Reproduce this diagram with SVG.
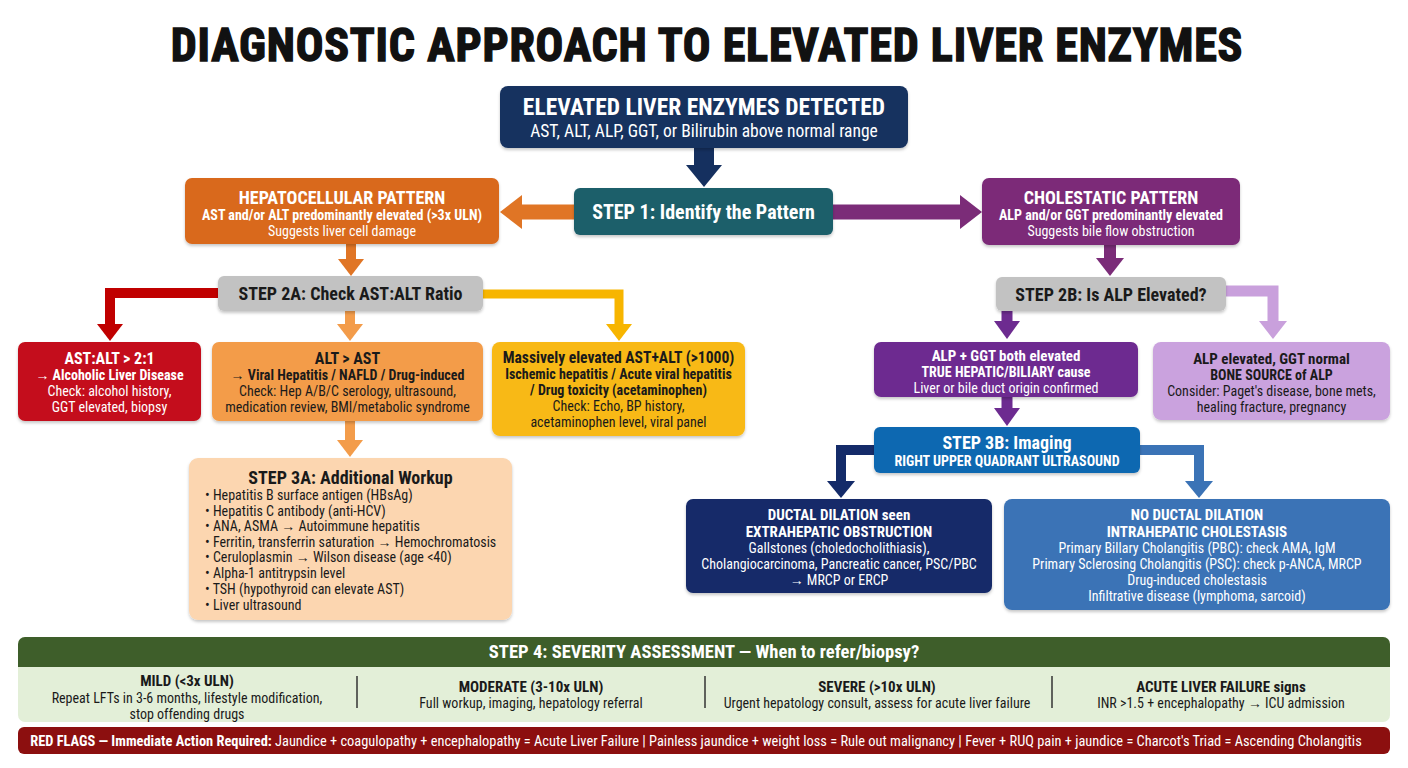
<svg xmlns="http://www.w3.org/2000/svg" width="1408" height="768" viewBox="0 0 1408 768">
<defs>
<style>
text{font-family:"Liberation Sans Narrow","Roboto Condensed","Arial Narrow","Liberation Sans",sans-serif;text-anchor:middle}
.b{font-weight:bold}
.w{fill:#fff}
.d{fill:#1a1a1a}
.box{filter:url(#sh)}
.f24{font-size:23.5px}.f20{font-size:20px}.f18{font-size:18px}.f17{font-size:17.5px}.f16{font-size:16px}.f15{font-size:15px}.f14{font-size:14px}
.lft{text-anchor:start}
.cn{fill:none}
</style>
<filter id="sh" x="-5%" y="-10%" width="110%" height="130%"><feDropShadow dx="0" dy="2" stdDeviation="1.5" flood-color="#000" flood-opacity="0.22"/></filter>
<marker id="hNavyB" markerUnits="userSpaceOnUse" viewBox="0 0 22 36" markerWidth="22" markerHeight="36" refX="0" refY="18" orient="auto"><path d="M0,0L22,18L0,36z" fill="#15305f"/></marker>
<marker id="hOrangeB" markerUnits="userSpaceOnUse" viewBox="0 0 22 34" markerWidth="22" markerHeight="34" refX="0" refY="17" orient="auto"><path d="M0,0L22,17L0,34z" fill="#e07525"/></marker>
<marker id="hPurpleB" markerUnits="userSpaceOnUse" viewBox="0 0 22 34" markerWidth="22" markerHeight="34" refX="0" refY="17" orient="auto"><path d="M0,0L22,17L0,34z" fill="#7b2c78"/></marker>
<marker id="hOrange" markerUnits="userSpaceOnUse" viewBox="0 0 17 26" markerWidth="17" markerHeight="26" refX="0" refY="13" orient="auto"><path d="M0,0L17,13L0,26z" fill="#e07525"/></marker>
<marker id="hLtOrange" markerUnits="userSpaceOnUse" viewBox="0 0 17 26" markerWidth="17" markerHeight="26" refX="0" refY="13" orient="auto"><path d="M0,0L17,13L0,26z" fill="#f39c4a"/></marker>
<marker id="hRed" markerUnits="userSpaceOnUse" viewBox="0 0 17 26" markerWidth="17" markerHeight="26" refX="0" refY="13" orient="auto"><path d="M0,0L17,13L0,26z" fill="#c00000"/></marker>
<marker id="hYellow" markerUnits="userSpaceOnUse" viewBox="0 0 17 26" markerWidth="17" markerHeight="26" refX="0" refY="13" orient="auto"><path d="M0,0L17,13L0,26z" fill="#f7b500"/></marker>
<marker id="hPurple" markerUnits="userSpaceOnUse" viewBox="0 0 18 28" markerWidth="18" markerHeight="28" refX="0" refY="14" orient="auto"><path d="M0,0L18,14L0,28z" fill="#7b2c78"/></marker>
<marker id="hViolet" markerUnits="userSpaceOnUse" viewBox="0 0 18 26" markerWidth="18" markerHeight="26" refX="0" refY="13" orient="auto"><path d="M0,0L18,13L0,26z" fill="#6d2b90"/></marker>
<marker id="hLilac" markerUnits="userSpaceOnUse" viewBox="0 0 18 28" markerWidth="18" markerHeight="28" refX="0" refY="14" orient="auto"><path d="M0,0L18,14L0,28z" fill="#c9a0dc"/></marker>
<marker id="hNavy" markerUnits="userSpaceOnUse" viewBox="0 0 17 28" markerWidth="17" markerHeight="28" refX="0" refY="14" orient="auto"><path d="M0,0L17,14L0,28z" fill="#142b69"/></marker>
<marker id="hBlue" markerUnits="userSpaceOnUse" viewBox="0 0 17 28" markerWidth="17" markerHeight="28" refX="0" refY="14" orient="auto"><path d="M0,0L17,14L0,28z" fill="#3b73b6"/></marker>
</defs>
<rect width="1408" height="768" fill="#ffffff"/>

<text id="title" x="707" y="61" style="font-family:'Roboto Condensed','Liberation Sans Narrow',sans-serif;font-weight:bold;font-size:46px;letter-spacing:0.8px;stroke:#111;stroke-width:1.4px" fill="#111">DIAGNOSTIC APPROACH TO ELEVATED LIVER ENZYMES</text>

<g id="connectors">
<line x1="704" y1="148" x2="704" y2="165" stroke="#15305f" stroke-width="20" marker-end="url(#hNavyB)"/>
<line x1="574" y1="212" x2="522" y2="212" stroke="#e07525" stroke-width="15" marker-end="url(#hOrangeB)"/>
<line x1="833" y1="212" x2="960" y2="212" stroke="#7b2c78" stroke-width="15" marker-end="url(#hPurpleB)"/>
<line x1="351" y1="244" x2="351" y2="259" stroke="#e07525" stroke-width="10" marker-end="url(#hOrange)"/>
<line x1="350" y1="311" x2="350" y2="324" stroke="#f39c4a" stroke-width="10" marker-end="url(#hLtOrange)"/>
<path class="cn" d="M218,293H110V324" stroke="#c00000" stroke-width="10" marker-end="url(#hRed)"/>
<path class="cn" d="M483,294H619V324" stroke="#f7b500" stroke-width="9" marker-end="url(#hYellow)"/>
<line x1="350" y1="421" x2="350" y2="440" stroke="#f39c4a" stroke-width="10" marker-end="url(#hLtOrange)"/>
<line x1="1110" y1="245" x2="1110" y2="258" stroke="#7b2c78" stroke-width="12" marker-end="url(#hPurple)"/>
<line x1="1007" y1="311" x2="1007" y2="321" stroke="#6d2b90" stroke-width="11" marker-end="url(#hViolet)"/>
<path class="cn" d="M1224,291H1273V321" stroke="#c9a0dc" stroke-width="11" marker-end="url(#hLilac)"/>
<line x1="1007" y1="397" x2="1007" y2="408" stroke="#6d2b90" stroke-width="11" marker-end="url(#hViolet)"/>
<path class="cn" d="M876,450H841V481" stroke="#142b69" stroke-width="10" marker-end="url(#hNavy)"/>
<path class="cn" d="M1138,450H1199V481" stroke="#3b73b6" stroke-width="10" marker-end="url(#hBlue)"/>
</g>

<g id="n-detected">
<rect class="box" x="500" y="86" width="408" height="62" rx="8" fill="#15305f"/>
<text x="704" y="115" class="b w f24">ELEVATED LIVER ENZYMES DETECTED</text>
<text x="704" y="137" class="w f17">AST, ALT, ALP, GGT, or Bilirubin above normal range</text>
</g>

<g id="n-step1">
<rect class="box" x="574" y="188" width="259" height="47" rx="6" fill="#1d5e6b"/>
<text x="703.5" y="219" class="b w f20">STEP 1: Identify the Pattern</text>
</g>

<g id="n-hepato">
<rect class="box" x="185" y="178" width="314" height="66" rx="7" fill="#d9691f"/>
<text x="342" y="204" class="b w f18">HEPATOCELLULAR PATTERN</text>
<text x="342" y="220" class="b w f14">AST and/or ALT predominantly elevated (&gt;3x ULN)</text>
<text x="342" y="236" class="w f14">Suggests liver cell damage</text>
</g>

<g id="n-chole">
<rect class="box" x="982" y="178" width="258" height="67" rx="7" fill="#7b2c78"/>
<text x="1111" y="204" class="b w f18">CHOLESTATIC PATTERN</text>
<text x="1111" y="220" class="b w f14">ALP and/or GGT predominantly elevated</text>
<text x="1111" y="236" class="w f14">Suggests bile flow obstruction</text>
</g>

<g id="n-step2a">
<rect class="box" x="218" y="276" width="265" height="35" rx="6" fill="#c2c2c2"/>
<text x="350.5" y="300" class="b d f18">STEP 2A: Check AST:ALT Ratio</text>
</g>

<g id="n-step2b">
<rect class="box" x="996" y="277" width="230" height="34" rx="6" fill="#c2c2c2"/>
<text x="1111" y="301" class="b d f18">STEP 2B: Is ALP Elevated?</text>
</g>

<g id="n-alcoholic">
<rect class="box" x="18" y="342" width="183" height="79" rx="7" fill="#c4111b"/>
<text x="109.5" y="364" class="b w f16">AST:ALT &gt; 2:1</text>
<text x="109.5" y="380" class="b w f14">→ Alcoholic Liver Disease</text>
<text x="109.5" y="396" class="w f14">Check: alcohol history,</text>
<text x="109.5" y="412" class="w f14">GGT elevated, biopsy</text>
</g>

<g id="n-altast">
<rect class="box" x="212" y="342" width="271" height="79" rx="7" fill="#f39c4a"/>
<text x="347.5" y="364" class="b d f16">ALT &gt; AST</text>
<text x="347.5" y="380" class="b d f14">→ Viral Hepatitis / NAFLD / Drug-induced</text>
<text x="347.5" y="396" class="d f14">Check: Hep A/B/C serology, ultrasound,</text>
<text x="347.5" y="412" class="d f14">medication review, BMI/metabolic syndrome</text>
</g>

<g id="n-massive">
<rect class="box" x="492" y="342" width="253" height="94" rx="8" fill="#f8b916"/>
<text x="618.5" y="363" class="b d f15" style="font-size:15.6px">Massively elevated AST+ALT (&gt;1000)</text>
<text x="618.5" y="379" class="b d f14">Ischemic hepatitis / Acute viral hepatitis</text>
<text x="618.5" y="395" class="b d f14">/ Drug toxicity (acetaminophen)</text>
<text x="618.5" y="411" class="d f14">Check: Echo, BP history,</text>
<text x="618.5" y="427" class="d f14">acetaminophen level, viral panel</text>
</g>

<g id="n-step3a">
<rect class="box" x="189" y="458" width="323" height="162" rx="9" fill="#fcd6b0"/>
<text x="350.5" y="484" class="b d f18">STEP 3A: Additional Workup</text>
<g class="d f14">
<text x="205" y="500" class="lft">• Hepatitis B surface antigen (HBsAg)</text>
<text x="205" y="516" class="lft">• Hepatitis C antibody (anti-HCV)</text>
<text x="205" y="531" class="lft">• ANA, ASMA → Autoimmune hepatitis</text>
<text x="205" y="547" class="lft">• Ferritin, transferrin saturation → Hemochromatosis</text>
<text x="205" y="562" class="lft">• Ceruloplasmin → Wilson disease (age &lt;40)</text>
<text x="205" y="578" class="lft">• Alpha-1 antitrypsin level</text>
<text x="205" y="594" class="lft">• TSH (hypothyroid can elevate AST)</text>
<text x="205" y="610" class="lft">• Liver ultrasound</text>
</g>
</g>

<g id="n-alpggt">
<rect class="box" x="874" y="342" width="264" height="55" rx="7" fill="#6d2b90"/>
<text x="1006" y="361" class="b w f15">ALP + GGT both elevated</text>
<text x="1006" y="377" class="b w f14">TRUE HEPATIC/BILIARY cause</text>
<text x="1006" y="393" class="w f14">Liver or bile duct origin confirmed</text>
</g>

<g id="n-bone">
<rect class="box" x="1153" y="342" width="237" height="78" rx="8" fill="#caa2de"/>
<text x="1271.5" y="364" class="b d f15">ALP elevated, GGT normal</text>
<text x="1271.5" y="380" class="b d f14">BONE SOURCE of ALP</text>
<text x="1271.5" y="396" class="d f14">Consider: Paget's disease, bone mets,</text>
<text x="1271.5" y="412" class="d f14">healing fracture, pregnancy</text>
</g>

<g id="n-step3b">
<rect class="box" x="874" y="427" width="266" height="46" rx="6" fill="#0f67b1"/>
<text x="1007" y="449" class="b w f18">STEP 3B: Imaging</text>
<text x="1007" y="466" class="b w f14">RIGHT UPPER QUADRANT ULTRASOUND</text>
</g>

<g id="n-ductal">
<rect class="box" x="686" y="499" width="306" height="94" rx="7" fill="#142b69"/>
<text x="839" y="520" class="b w f15">DUCTAL DILATION seen</text>
<text x="839" y="537" class="b w f15">EXTRAHEPATIC OBSTRUCTION</text>
<text x="839" y="553" class="w f14">Gallstones (choledocholithiasis),</text>
<text x="839" y="569" class="w f14">Cholangiocarcinoma, Pancreatic cancer, PSC/PBC</text>
<text x="839" y="585" class="w f14">→ MRCP or ERCP</text>
</g>

<g id="n-noductal">
<rect class="box" x="1004" y="499" width="386" height="111" rx="8" fill="#3b73b6"/>
<text x="1197" y="520" class="b w f15">NO DUCTAL DILATION</text>
<text x="1197" y="537" class="b w f15">INTRAHEPATIC CHOLESTASIS</text>
<text x="1197" y="553" class="w f14">Primary Billary Cholangitis (PBC): check AMA, IgM</text>
<text x="1197" y="569" class="w f14">Primary Sclerosing Cholangitis (PSC): check p-ANCA, MRCP</text>
<text x="1197" y="585" class="w f14">Drug-induced cholestasis</text>
<text x="1197" y="601" class="w f14">Infiltrative disease (lymphoma, sarcoid)</text>
</g>

<g id="n-step4">
<rect x="18" y="637" width="1372" height="85" rx="7" fill="#e3efd8"/>
<path d="M25,637H1383a7,7 0 0 1 7,7V667H18V644a7,7 0 0 1 7,-7z" fill="#3e5e2a"/>
<text x="704" y="658" class="b w f18" style="font-size:18.6px">STEP 4: SEVERITY ASSESSMENT — When to refer/biopsy?</text>
<g stroke="#333" stroke-width="1.5">
<line x1="357" y1="676" x2="357" y2="708"/>
<line x1="705" y1="676" x2="705" y2="708"/>
<line x1="1052" y1="676" x2="1052" y2="708"/>
</g>
<text x="187" y="686" class="b d f15">MILD (&lt;3x ULN)</text>
<text x="187" y="703" class="d f14">Repeat LFTs in 3-6 months, lifestyle modification,</text>
<text x="187" y="719" class="d f14">stop offending drugs</text>
<text x="531" y="692" class="b d f15">MODERATE (3-10x ULN)</text>
<text x="531" y="708" class="d f14">Full workup, imaging, hepatology referral</text>
<text x="877" y="692" class="b d f15">SEVERE (&gt;10x ULN)</text>
<text x="877" y="708" class="d f14">Urgent hepatology consult, assess for acute liver failure</text>
<text x="1221" y="692" class="b d f15">ACUTE LIVER FAILURE signs</text>
<text x="1221" y="708" class="d f14">INR &gt;1.5 + encephalopathy → ICU admission</text>
</g>

<g id="n-redflags">
<rect x="18" y="727" width="1372" height="27" rx="6" fill="#8c0f0f"/>
<text x="696" y="746" class="w f14" style="font-size:14.4px"><tspan class="b">RED FLAGS — Immediate Action Required:</tspan> Jaundice + coagulopathy + encephalopathy = Acute Liver Failure |  Painless jaundice + weight loss = Rule out malignancy  |  Fever + RUQ pain + jaundice = Charcot's Triad = Ascending Cholangitis</text>
</g>
</svg>
